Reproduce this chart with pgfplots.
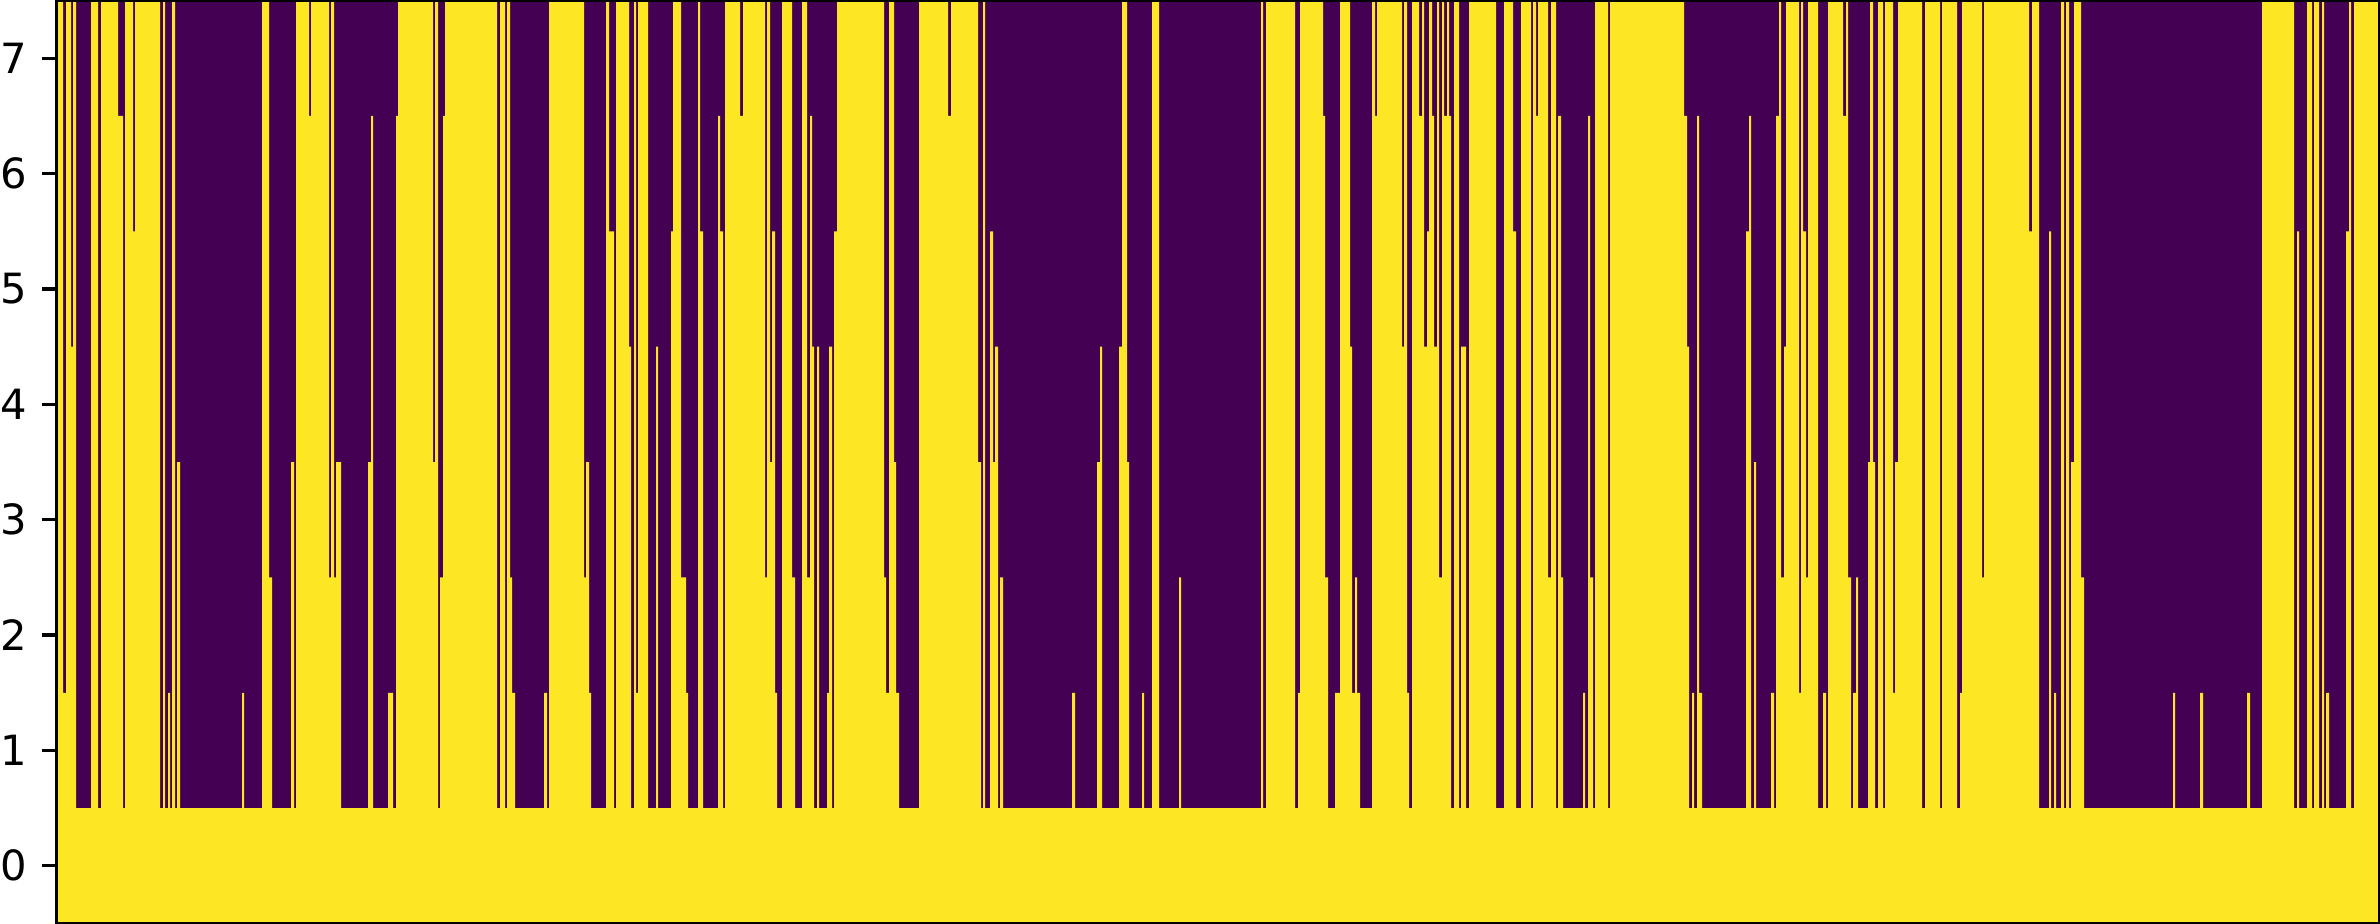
\documentclass[border=0pt]{standalone}
\usepackage{fontspec}
\setmainfont{DejaVu Sans}
\usepackage{pgfplots}
\pgfplotsset{compat=1.18}
\definecolor{vpurple}{HTML}{440154}
\definecolor{vyellow}{HTML}{FDE725}
\begin{document}
\begin{tikzpicture}
\useasboundingbox (0,0) rectangle (571.2bp,221.76bp);
\begin{axis}[
  at={(13.608bp,0.12bp)}, anchor=south west,
  scale only axis, width=557.592bp, height=221.52bp,
  xmin=56.7, xmax=2380, ymin=-0.5, ymax=7.5,
  xtick=\empty, ytick={0,1,2,3,4,5,6,7}, ytick pos=left,
  tick align=outside, major tick length=3.5bp,
  tick style={black, line width=0.8bp},
  axis line style={black, line width=0.8bp},
  /pgf/number format/assume math mode=true,
  yticklabel style={font=\fontsize{10bp}{12bp}\selectfont, inner sep=0pt, xshift=-3.5bp},
  axis background/.style={fill=vpurple},
  axis on top,
]
\addplot[const plot, fill=vyellow, draw=none] table[row sep=\\, header=false] {
56.7 -0.5\\ 56.7 7.5\\ 63 1.5\\ 66 7.5\\ 71 4.5\\ 73 7.5\\ 76 0.5\\ 91 7.5\\ 98 0.5\\ 101 7.5\\ 118 6.5\\ 123 0.5\\ 125 7.5\\ 133 5.5\\ 135 7.5\\ 160 0.5\\ 163 7.5\\ 165 0.5\\ 168 1.5\\ 170 0.5\\ 172 7.5\\ 175 0.5\\ 177 3.5\\ 180 0.5\\ 242 1.5\\ 244 0.5\\
262 7.5\\ 269 2.5\\ 272 0.5\\ 291 3.5\\ 294 0.5\\ 296 7.5\\ 309 6.5\\ 311 7.5\\ 329 2.5\\ 331 7.5\\ 334 2.5\\ 336 3.5\\ 341 0.5\\ 368 3.5\\ 371 6.5\\ 373 0.5\\ 388 1.5\\ 393 0.5\\ 396 6.5\\ 398 7.5\\ 433 3.5\\ 435 7.5\\ 438 0.5\\
440 2.5\\ 443 6.5\\ 445 7.5\\ 497 0.5\\ 500 7.5\\ 505 0.5\\ 507 7.5\\ 510 2.5\\ 512 1.5\\ 515 0.5\\ 544 1.5\\ 547 0.5\\ 549 7.5\\ 584 2.5\\ 586 3.5\\ 589 1.5\\ 591 0.5\\ 606 7.5\\ 609 5.5\\ 614 0.5\\ 616 7.5\\ 629 4.5\\
631 0.5\\ 634 7.5\\ 636 1.5\\ 638 7.5\\ 648 0.5\\ 656 4.5\\ 658 0.5\\ 671 5.5\\ 673 7.5\\ 681 2.5\\ 686 1.5\\ 688 0.5\\ 698 7.5\\ 700 5.5\\ 703 0.5\\ 718 6.5\\ 720 5.5\\ 723 0.5\\ 725 7.5\\ 740 6.5\\ 743 7.5\\ 765 2.5\\ 767 7.5\\ 770 3.5\\ 772 5.5\\ 775 1.5\\ 777 0.5\\ 782 7.5\\ 792 2.5\\ 795 0.5\\ 802 7.5\\ 807 2.5\\ 810 6.5\\ 812 4.5\\ 814 0.5\\ 817 4.5\\ 819 0.5\\
827 1.5\\ 829 4.5\\ 832 0.5\\ 834 5.5\\ 837 7.5\\ 884 2.5\\ 886 1.5\\ 889 7.5\\ 894 3.5\\ 896 1.5\\ 899 0.5\\ 919 7.5\\ 948 6.5\\ 951 7.5\\ 978 3.5\\ 981 0.5\\ 983 7.5\\ 985 0.5\\ 990 5.5\\ 993 3.5\\ 995 4.5\\ 998 0.5\\ 1000 2.5\\ 1003 0.5\\
1072 1.5\\ 1075 0.5\\ 1097 3.5\\ 1100 4.5\\ 1102 0.5\\ 1119 4.5\\ 1122 7.5\\ 1127 3.5\\ 1129 0.5\\ 1142 1.5\\ 1144 0.5\\ 1152 7.5\\ 1159 0.5\\ 1179 2.5\\ 1181 0.5\\
1261 7.5\\ 1263 0.5\\ 1266 7.5\\ 1295 0.5\\ 1298 1.5\\ 1300 7.5\\ 1323 6.5\\ 1325 2.5\\ 1328 0.5\\ 1335 1.5\\ 1340 7.5\\ 1350 4.5\\ 1352 1.5\\ 1355 2.5\\ 1357 1.5\\ 1360 0.5\\ 1372 7.5\\ 1375 6.5\\ 1377 7.5\\
1402 4.5\\ 1404 7.5\\ 1407 1.5\\ 1409 0.5\\ 1412 7.5\\ 1419 6.5\\ 1422 7.5\\ 1424 4.5\\ 1427 5.5\\ 1429 7.5\\ 1432 6.5\\ 1434 4.5\\ 1437 7.5\\ 1439 2.5\\ 1442 7.5\\ 1444 6.5\\ 1447 7.5\\ 1449 6.5\\ 1451 0.5\\ 1454 7.5\\ 1459 0.5\\ 1461 4.5\\ 1466 0.5\\ 1469 7.5\\ 1496 0.5\\ 1504 7.5\\ 1513 5.5\\ 1516 0.5\\ 1521 7.5\\ 1531 0.5\\ 1533 7.5\\ 1536 6.5\\ 1538 7.5\\ 1548 2.5\\ 1551 7.5\\ 1556 0.5\\ 1558 6.5\\ 1561 2.5\\ 1563 0.5\\
1583 1.5\\ 1585 0.5\\ 1588 6.5\\ 1590 2.5\\ 1593 0.5\\ 1595 7.5\\ 1608 0.5\\ 1610 7.5\\ 1684 6.5\\ 1687 4.5\\ 1689 0.5\\ 1692 1.5\\ 1694 0.5\\ 1697 6.5\\ 1699 1.5\\ 1702 0.5\\ 1746 5.5\\ 1749 6.5\\ 1751 0.5\\ 1754 3.5\\ 1756 0.5\\
1771 1.5\\ 1774 0.5\\ 1776 6.5\\ 1779 7.5\\ 1781 2.5\\ 1784 4.5\\ 1786 7.5\\ 1799 1.5\\ 1801 7.5\\ 1803 5.5\\ 1806 2.5\\ 1808 7.5\\ 1818 0.5\\ 1823 1.5\\ 1826 0.5\\ 1828 7.5\\ 1843 6.5\\ 1846 7.5\\ 1848 2.5\\ 1851 0.5\\ 1853 1.5\\ 1856 2.5\\ 1858 0.5\\ 1868 3.5\\ 1870 7.5\\ 1873 3.5\\ 1875 0.5\\ 1878 7.5\\ 1883 0.5\\ 1885 7.5\\ 1893 1.5\\ 1895 3.5\\ 1898 7.5\\ 1922 0.5\\ 1925 7.5\\ 1940 0.5\\ 1942 7.5\\ 1957 0.5\\
1960 1.5\\ 1962 7.5\\ 1982 2.5\\ 1984 7.5\\ 2029 5.5\\ 2032 7.5\\ 2039 0.5\\ 2049 5.5\\ 2051 0.5\\ 2054 1.5\\ 2056 0.5\\ 2061 7.5\\ 2064 0.5\\ 2066 7.5\\ 2069 0.5\\ 2071 3.5\\ 2074 7.5\\ 2081 2.5\\ 2084 0.5\\
2173 1.5\\ 2175 0.5\\ 2200 1.5\\ 2203 0.5\\ 2247 1.5\\ 2250 0.5\\ 2262 7.5\\ 2294 0.5\\ 2297 5.5\\ 2299 0.5\\ 2307 7.5\\ 2312 0.5\\ 2314 7.5\\ 2319 0.5\\ 2322 7.5\\ 2324 0.5\\ 2326 1.5\\ 2329 0.5\\ 2346 5.5\\ 2349 7.5\\ 2351 0.5\\ 2354 7.5\\ 2380 7.5\\ 2380 -0.5\\
} -- cycle;
\end{axis}
\end{tikzpicture}
\end{document}
